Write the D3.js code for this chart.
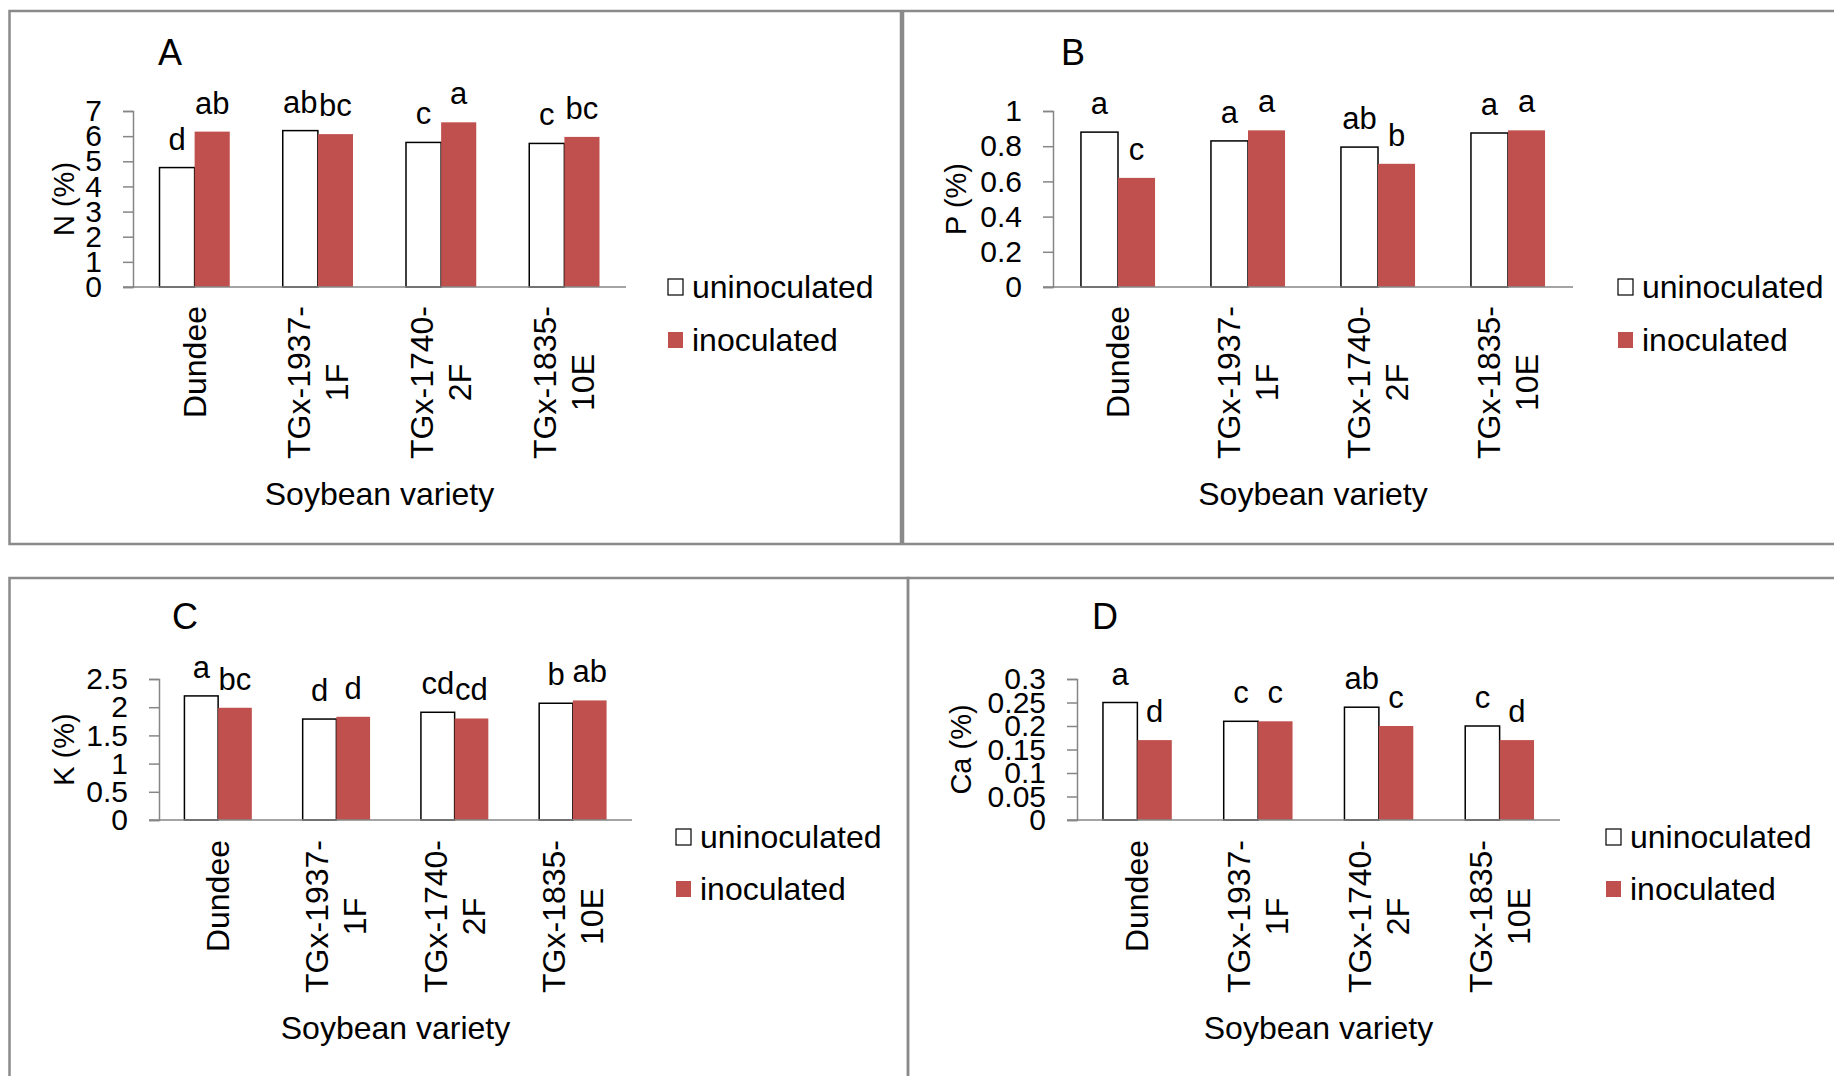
<!DOCTYPE html>
<html>
<head>
<meta charset="utf-8">
<script src="https://cdn.jsdelivr.net/npm/d3@7"></script>
<style>
  body { margin: 0; background: #fff; }
  svg text { font-family: "Liberation Sans", Arial, sans-serif; fill: #000; }
</style>
</head>
<body>
<script>
// Data
var varieties = ["Dundee", "TGx-1937-1F", "TGx-1740-2F", "TGx-1835-10E"];
var varietyLines = [["Dundee"], ["TGx-1937-", "1F"], ["TGx-1740-", "2F"], ["TGx-1835-", "10E"]];
var seriesNames = ["uninoculated", "inoculated"];

var nUninoc = [4.75, 6.22, 5.75, 5.71];
var nInoc = [6.18, 6.08, 6.55, 5.97];
var nUninocLetters = ["d", "ab", "c", "c"];
var nInocLetters = ["ab", "bc", "a", "bc"];
var nTicks = [0, 1, 2, 3, 4, 5, 6, 7];

var pUninoc = [0.88, 0.83, 0.795, 0.875];
var pInoc = [0.62, 0.89, 0.70, 0.89];
var pUninocLetters = ["a", "a", "ab", "a"];
var pInocLetters = ["c", "a", "b", "a"];
var pTicks = [0, 0.2, 0.4, 0.6, 0.8, 1];

var kUninoc = [2.2, 1.79, 1.91, 2.07];
var kInoc = [1.99, 1.83, 1.80, 2.12];
var kUninocLetters = ["a", "d", "cd", "b"];
var kInocLetters = ["bc", "d", "cd", "ab"];
var kTicks = [0, 0.5, 1, 1.5, 2, 2.5];

var caUninoc = [0.25, 0.21, 0.24, 0.20];
var caInoc = [0.17, 0.21, 0.20, 0.17];
var caUninocLetters = ["a", "c", "ab", "c"];
var caInocLetters = ["d", "c", "c", "d"];
var caTicks = [0, 0.05, 0.1, 0.15, 0.2, 0.25, 0.3];

var RED = "#c0504d";
var AXIS = "#868686";
var FONT = 32;

var svg = d3.select("body").append("svg")
    .attr("width", 1834)
    .attr("height", 1076);

function drawPanel(cfg) {
    var g = svg.append("g");

    // frame
    g.append("rect")
        .attr("x", cfg.frame[0]).attr("y", cfg.frame[1])
        .attr("width", cfg.frame[2]).attr("height", cfg.frame[3])
        .attr("fill", "none").attr("stroke", "#8a8a8a").attr("stroke-width", 2.5);

    var x = d3.scaleBand()
        .domain(varieties)
        .range([cfg.x0, cfg.x1])
        .paddingInner(0.43)
        .paddingOuter(0.215);
    var xs = d3.scaleBand().domain([0, 1]).range([0, x.bandwidth()]);
    var y = d3.scaleLinear()
        .domain([0, d3.max(cfg.ticks)])
        .range([cfg.y0, cfg.y1]);

    // y axis
    var yAxis = g.append("g")
        .attr("transform", "translate(" + cfg.x0 + ",0)")
        .call(d3.axisLeft(y).tickValues(cfg.ticks).tickSize(10).tickPadding(21)
            .tickFormat(function(d) { return String(+d.toFixed(2)); }));
    yAxis.select(".domain").attr("stroke", AXIS).attr("stroke-width", 1.5);
    yAxis.selectAll(".tick line").attr("stroke", AXIS).attr("stroke-width", 1.5);
    yAxis.selectAll(".tick text")
        .style("font-size", "30px")
        .attr("font-family", null);

    // bars
    var rows = varieties.map(function(v, i) {
        return [
            {v: v, s: 0, val: cfg.uninoc[i], letter: cfg.uninocLetters[i]},
            {v: v, s: 1, val: cfg.inoc[i], letter: cfg.inocLetters[i]}
        ];
    });
    var flat = d3.merge(rows);

    g.selectAll(".bar")
        .data(flat)
        .enter()
        .append("rect")
        .attr("class", "bar")
        .attr("x", function(d) { return x(d.v) + xs(d.s); })
        .attr("y", function(d) { return y(d.val); })
        .attr("width", xs.bandwidth())
        .attr("height", function(d) { return cfg.y0 - y(d.val); })
        .attr("fill", function(d) { return d.s == 0 ? "#fff" : RED; })
        .attr("stroke", function(d) { return d.s == 0 ? "#000" : "none"; })
        .attr("stroke-width", 1.5);

    // x axis line
    g.append("line")
        .attr("x1", cfg.x0 - 10).attr("x2", cfg.x1)
        .attr("y1", cfg.y0).attr("y2", cfg.y0)
        .attr("stroke", AXIS).attr("stroke-width", 1.5);

    // significance letters
    g.selectAll(".letter")
        .data(flat)
        .enter()
        .append("text")
        .attr("class", "letter")
        .attr("x", function(d) { return x(d.v) + xs(d.s) + xs.bandwidth() / 2; })
        .attr("y", function(d) { return y(d.val) - 18; })
        .attr("text-anchor", "middle")
        .style("font-size", "31px")
        .text(function(d) { return d.letter; });

    // rotated category labels, block hangs from the axis
    varieties.forEach(function(v, i) {
        var lines = varietyLines[i];
        var lg = g.append("g")
            .attr("transform", "translate(" + (x(v) + x.bandwidth() / 2) + "," + cfg.catTop + ") rotate(-90)");
        var texts = lines.map(function(line, j) {
            return lg.append("text")
                .attr("text-anchor", "middle")
                .attr("dominant-baseline", "central")
                .attr("y", (j - (lines.length - 1) / 2) * 38)
                .style("font-size", FONT + "px")
                .text(line);
        });
        var maxLen = d3.max(texts, function(t) { return t.node().getComputedTextLength(); });
        texts.forEach(function(t) { t.attr("x", -maxLen / 2); });
    });

    // panel letter
    g.append("text")
        .attr("x", cfg.titleX).attr("y", cfg.titleY)
        .attr("text-anchor", "middle")
        .attr("dominant-baseline", "central")
        .style("font-size", "36px")
        .text(cfg.title);

    // y label
    g.append("text")
        .attr("transform", "translate(" + cfg.yLabelX + "," + ((cfg.y0 + cfg.y1) / 2) + ") rotate(-90)")
        .attr("text-anchor", "middle")
        .attr("dominant-baseline", "central")
        .style("font-size", "29px")
        .text(cfg.yLabel);

    // x label
    g.append("text")
        .attr("x", (cfg.x0 + cfg.x1) / 2).attr("y", cfg.xLabelY)
        .attr("text-anchor", "middle")
        .attr("dominant-baseline", "central")
        .style("font-size", FONT + "px")
        .text("Soybean variety");

    // legend
    seriesNames.forEach(function(name, i) {
        var ly = cfg.legendY[i];
        g.append("rect")
            .attr("x", cfg.legendX).attr("y", ly - 8)
            .attr("width", 15).attr("height", 16)
            .attr("fill", i == 0 ? "#fff" : RED)
            .attr("stroke", i == 0 ? "#000" : "none")
            .attr("stroke-width", 1.2);
        g.append("text")
            .attr("x", cfg.legendX + 24).attr("y", ly)
            .attr("dominant-baseline", "central")
            .style("font-size", FONT + "px")
            .text(name);
    });
}

drawPanel({
    title: "A", titleX: 170, titleY: 52,
    frame: [9.5, 11, 891.5, 533],
    x0: 133, x1: 626, y0: 287, y1: 111,
    ticks: nTicks, uninoc: nUninoc, inoc: nInoc,
    uninocLetters: nUninocLetters, inocLetters: nInocLetters,
    yLabel: "N (%)", yLabelX: 64, catTop: 306, xLabelY: 494,
    legendX: 668, legendY: [287, 340]
});

drawPanel({
    title: "B", titleX: 1073, titleY: 52,
    frame: [903, 11, 940, 533],
    x0: 1053, x1: 1573, y0: 287, y1: 111,
    ticks: pTicks, uninoc: pUninoc, inoc: pInoc,
    uninocLetters: pUninocLetters, inocLetters: pInocLetters,
    yLabel: "P (%)", yLabelX: 956, catTop: 306, xLabelY: 494,
    legendX: 1618, legendY: [287, 340]
});

drawPanel({
    title: "C", titleX: 185, titleY: 616,
    frame: [9.5, 578, 898.5, 520],
    x0: 159, x1: 632, y0: 820, y1: 679,
    ticks: kTicks, uninoc: kUninoc, inoc: kInoc,
    uninocLetters: kUninocLetters, inocLetters: kInocLetters,
    yLabel: "K (%)", yLabelX: 64, catTop: 840, xLabelY: 1028,
    legendX: 676, legendY: [837, 889]
});

drawPanel({
    title: "D", titleX: 1105, titleY: 616,
    frame: [908, 578, 940, 520],
    x0: 1077, x1: 1560, y0: 820, y1: 679,
    ticks: caTicks, uninoc: caUninoc, inoc: caInoc,
    uninocLetters: caUninocLetters, inocLetters: caInocLetters,
    yLabel: "Ca (%)", yLabelX: 961, catTop: 840, xLabelY: 1028,
    legendX: 1606, legendY: [837, 889]
});
</script>
</body>
</html>
